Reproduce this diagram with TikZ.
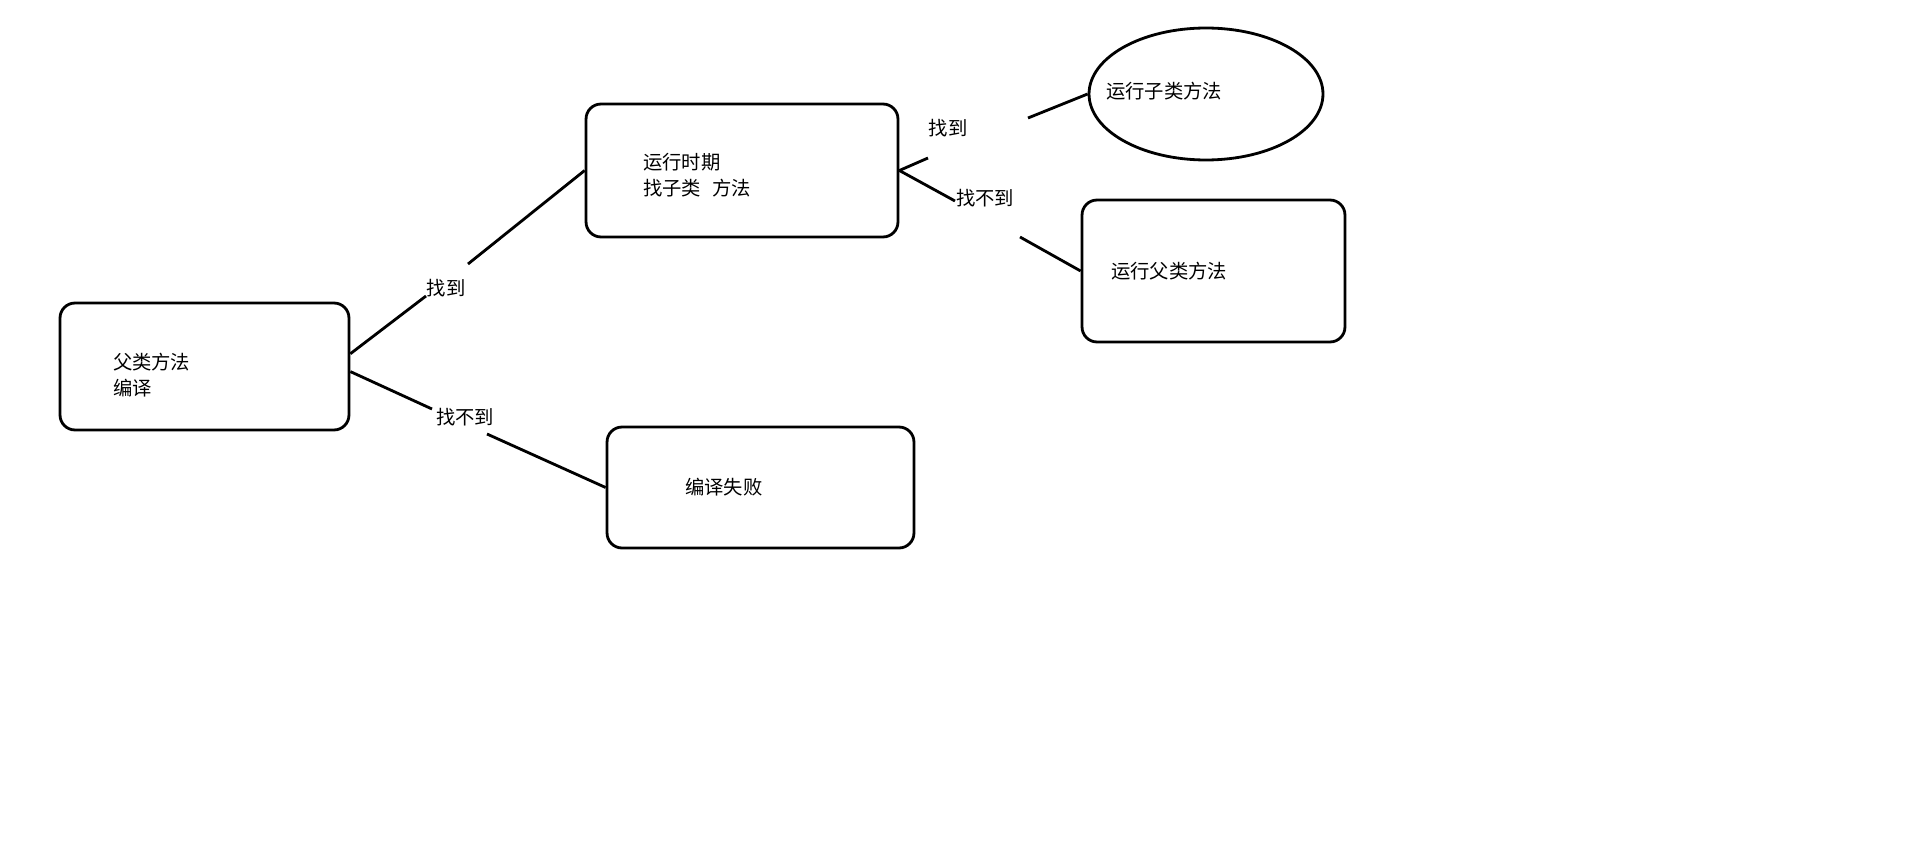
\documentclass[tikz,border=0pt]{standalone}
\usepackage{fontspec}
\setmainfont{Noto Sans CJK SC}
\usepackage{tikz}
\usetikzlibrary{shapes.geometric}
\tikzset{
    box/.style={rectangle, rounded corners=0.3cm, draw=black, line width=1.6pt, align=left, font=\fontsize{11}{15}\selectfont},
    oval/.style={ellipse, draw=black, line width=1.6pt, minimum width=4.68cm, minimum height=2.64cm},
    link/.style={line width=1.6pt},
    tag/.style={font=\fontsize{11}{15}\selectfont, inner sep=1pt}
}

\begin{document}
\begin{tikzpicture}[x=0.02cm, y=-0.02cm]
    \useasboundingbox (0,0) rectangle (1914,865);

    \node[box, minimum width=5.78cm, minimum height=2.54cm, text width=3.66cm, inner xsep=1.06cm] (parent) at (204.5,366.5) {\rule{0pt}{0.66cm}父类方法\\编译};
    \node[box, minimum width=6.24cm, minimum height=2.66cm, text width=3.96cm, inner xsep=1.14cm] (runtime) at (742,170.5) {\rule{0pt}{0.5cm}运行时期\\找子类\hspace{0.6em}方法};
    \node[box, minimum width=6.14cm, minimum height=2.42cm, text width=3.02cm, inner xsep=1.56cm] (fail) at (760.5,487.5) {编译失败};
    \node[oval] (child) at (1206,94) {};
    \node[tag, anchor=west] (childtxt) at (1104,91) {运行子类方法};
    \node[box, minimum width=5.26cm, minimum height=2.84cm, text width=4.10cm, inner xsep=0.58cm] (super) at (1213.5,271) {运行父类方法};

    % gaps in the lines
    \coordinate (ab1) at (426,296);
    \coordinate (ab2) at (468,264);
    \coordinate (ac1) at (432,409);
    \coordinate (ac2) at (487,434);
    \coordinate (be1) at (928,158);
    \coordinate (be2) at (1028,118);
    \coordinate (bd1) at (955,201);
    \coordinate (bd2) at (1020,237);

    \node[tag] (found1) at (446,288) {找到};
    \node[tag] (miss1) at (465,417) {找不到};
    \node[tag] (found2) at (948,128) {找到};
    \node[tag] (miss2) at (985,198) {找不到};

    \draw[link] (parent.5) -- (ab1);
    \draw[link] (ab2) -- (runtime.west);
    \draw[link] (parent.-2) -- (ac1);
    \draw[link] (ac2) -- (fail.west);
    \draw[link] (runtime.east) -- (be1);
    \draw[link] (be2) -- (child.west);
    \draw[link] (runtime.east) -- (bd1);
    \draw[link] (bd2) -- (super.west);
\end{tikzpicture}
\end{document}
